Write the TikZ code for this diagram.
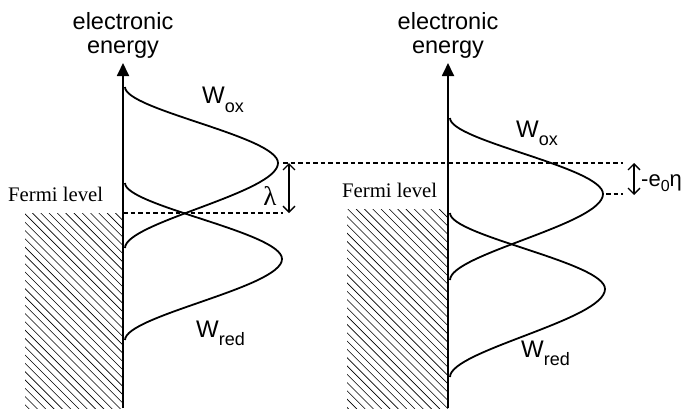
\documentclass[tikz,border=0pt]{standalone}
\usepackage{fontspec}
\setmainfont{Liberation Sans}
\newfontfamily\serifrm{Liberation Serif}
\usetikzlibrary{arrows.meta}
% #1 axis x, #2 peak x, #3 top y, #4 peak y, #5 bottom y
\newcommand{\bandcurve}[5]{%
  \draw[curve] (#1,#3) .. controls (#1,{#3+0.3*(#4-#3)}) and (#2,{#4-0.35*(#4-#3)}) .. (#2,#4)
    .. controls (#2,{#4+0.35*(#5-#4)}) and (#1,{#5-0.3*(#5-#4)}) .. (#1,#5);}
\newcommand{\Wlab}[2]{\fontsize{24}{26}\selectfont W\raisebox{-#2pt}{\fontsize{18}{19}\selectfont #1}}
\begin{document}
\begin{tikzpicture}[x=1pt,y=-1pt,
  curve/.style={line width=1.8pt,line join=round},
  axis/.style={line width=1.8pt,-{Triangle[length=13pt,width=12pt]}},
  dashline/.style={line width=1.2pt,dash pattern=on 4.5pt off 3pt},
  hatch/.style={line width=0.6pt},
  dblarrow/.style={line width=1.3pt,{Straight Barb[length=6pt,width=12pt]}-{Straight Barb[length=6pt,width=12pt]}},
  axlabel/.style={align=center,font=\fontsize{23.5}{24}\selectfont,inner sep=0pt},
  fermi/.style={font=\serifrm\fontsize{20.7}{22}\selectfont,inner sep=0pt,anchor=base west},
  wlabel/.style={inner sep=0pt,anchor=base west}]
\useasboundingbox (0,0) rectangle (690,408);

% ---------- left panel ----------
\begin{scope}
  \clip (25,213) rectangle (123,408);
  \foreach \i in {-200,-191.7,...,130} {\draw[hatch] (\i,213) -- ++(200,200);}
\end{scope}
\coordinate (La0) at (123,408);
\coordinate (La1) at (123,63);
\draw[axis] (La0) -- (La1);
\node[axlabel] (Lel) at (123,35) {electronic\\energy};
\node[fermi] (Lfermi) at (8,201) {Fermi level};

\bandcurve{125}{278}{87}{163}{248}
\bandcurve{125}{282}{183}{259}{340}

\node[wlabel] (Lox) at (202,103) {\Wlab{ox}{9}};
\node[wlabel] (Lred) at (196,337) {\Wlab{red}{8}};

\coordinate (Ltop) at (283,163);
\coordinate (Rtopend) at (623,163);
\coordinate (Lfl0) at (123,213);
\coordinate (Lfl1) at (283,213);
\draw[dashline] (Ltop) -- (Rtopend);
\draw[dashline] (Lfl0) -- (Lfl1);
\coordinate (Lar0) at (289,163);
\coordinate (Lar1) at (289,213);
\draw[dblarrow] (Lar0) -- (Lar1);
\node[inner sep=0pt,font=\serifrm\fontsize{27}{28}\selectfont] (lam) at (270,196) {λ};

% ---------- right panel ----------
\begin{scope}
  \clip (347,209) rectangle (448,408);
  \foreach \i in {-200,-191.7,...,450} {\draw[hatch] (\i,209) -- ++(200,200);}
\end{scope}
\coordinate (Ra0) at (448,408);
\coordinate (Ra1) at (448,63);
\draw[axis] (Ra0) -- (Ra1);
\node[axlabel] (Rel) at (448,35) {electronic\\energy};
\node[fermi] (Rfermi) at (342,197) {Fermi level};

\bandcurve{450}{603}{118}{194}{280}
\bandcurve{450}{605}{213}{289}{377}

\node[wlabel] (Rox) at (516,137) {\Wlab{ox}{8}};
\node[wlabel] (Rred) at (521,357) {\Wlab{red}{8}};

\coordinate (Rpk0) at (606,194);
\coordinate (Rpk1) at (623,194);
\draw[dashline] (Rpk0) -- (Rpk1);
\coordinate (Rar0) at (634,163);
\coordinate (Rar1) at (634,195);
\draw[dblarrow] (Rar0) -- (Rar1);
\node[inner sep=0pt,anchor=base west,font=\fontsize{22}{24}\selectfont] (eta) at (641,186) {-e\raisebox{-5pt}{\fontsize{16}{16}\selectfont 0}η};
\end{tikzpicture}
\end{document}
